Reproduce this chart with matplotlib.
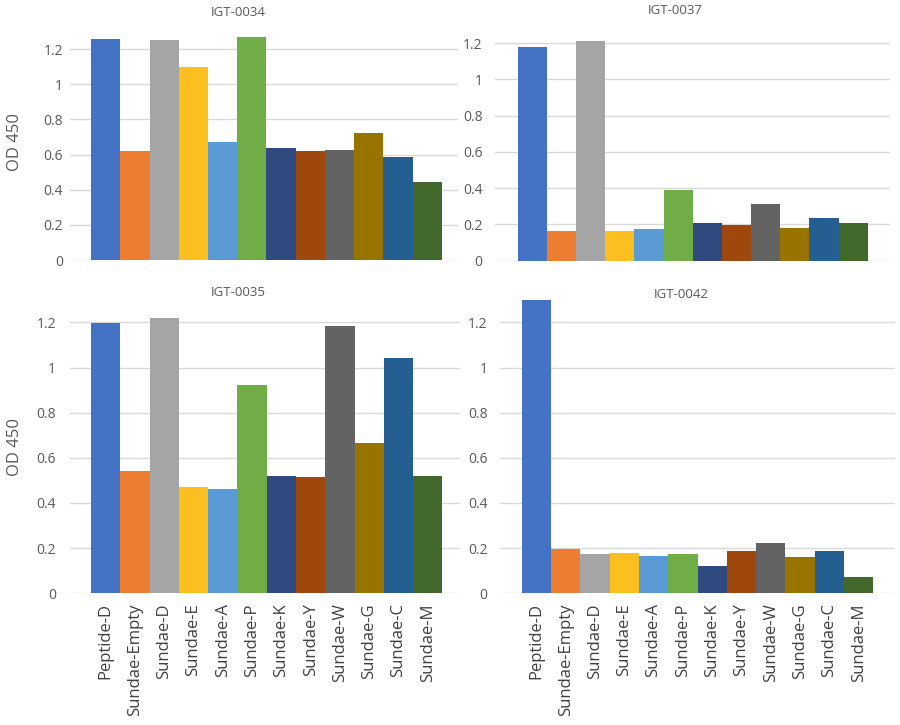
import matplotlib

matplotlib.use("Agg")

import matplotlib.pyplot as plt
import numpy as np

plt.rcParams["font.family"] = ["Open Sans", "DejaVu Sans"]

categories = [
    "Peptide-D", "Sundae-Empty", "Sundae-D", "Sundae-E", "Sundae-A", "Sundae-P",
    "Sundae-K", "Sundae-Y", "Sundae-W", "Sundae-G", "Sundae-C", "Sundae-M",
]

igt_0034 = [1.26, 0.62, 1.25, 1.10, 0.67, 1.27, 0.635, 0.62, 0.625, 0.72, 0.585, 0.445]
igt_0037 = [1.18, 0.165, 1.21, 0.165, 0.175, 0.392, 0.206, 0.197, 0.315, 0.182, 0.234, 0.21]
igt_0035 = [1.197, 0.542, 1.221, 0.469, 0.463, 0.922, 0.519, 0.516, 1.182, 0.666, 1.041, 0.519]
igt_0042 = [1.297, 0.195, 0.174, 0.177, 0.165, 0.174, 0.121, 0.189, 0.223, 0.162, 0.189, 0.071]

y_ticks = [0, 0.2, 0.4, 0.6, 0.8, 1, 1.2]
y_tick_labels = ["0", "0.2", "0.4", "0.6", "0.8", "1", "1.2"]

_BAR_COLORS = [
    "#4472C4", "#ED7D31", "#A5A5A5", "#FBBF1F", "#5B9BD5", "#70AD47",
    "#2E4A7F", "#9E480E", "#636363", "#997300", "#255E91", "#43682B",
]
_GRID_COLOR = "#D9D9D9"
_LABEL_COLOR = "#595959"
_TICK_COLOR = "#404040"

W, H = 900, 725

# (name, values, [left px, top px, right px, bottom px], xlim, title xy px, show x labels, y pad)
panels = [
    ("IGT-0034", igt_0034, (70, 31.5, 458, 260), (-1.22, 12.05), (238, 12), False, 5),
    ("IGT-0037", igt_0037, (495, 25, 890, 260.7), (-1.28, 12.26), (675, 10), False, 9),
    ("IGT-0035", igt_0035, (70, 299.8, 460, 593.3), (-1.22, 12.1), (238, 292), True, 10),
    ("IGT-0042", igt_0042, (500, 299.8, 895, 593.3), (-1.24, 12.24), (681, 295), True, 9),
]

fig = plt.figure(figsize=(W / 100, H / 100), dpi=100)
fig.patch.set_facecolor("white")

x = np.arange(len(categories))

for name, values, (l, t, r, b), xlim, (tx, ty), show_x, ypad in panels:
    ax = fig.add_axes([l / W, 1 - b / H, (r - l) / W, (b - t) / H])
    ax.bar(x, values, width=1.0, color=_BAR_COLORS, zorder=3, clip_on=False)
    ax.set_xlim(*xlim)
    ax.set_ylim(0, 1.3)
    ax.set_yticks(y_ticks)
    ax.set_yticklabels(y_tick_labels, fontsize=10, color=_LABEL_COLOR)
    ax.tick_params(axis="y", length=0, pad=ypad)
    ax.grid(axis="y", color=_GRID_COLOR, linewidth=1, zorder=0)
    for s in ax.spines.values():
        s.set_visible(False)
    ax.set_xticks(x)
    if show_x:
        ax.set_xticklabels(categories, rotation=90, fontsize=12, color=_TICK_COLOR)
        ax.tick_params(axis="x", length=0, pad=7)
    else:
        ax.set_xticklabels([])
        ax.tick_params(axis="x", length=0)
    fig.text(tx / W, 1 - ty / H, name, ha="center", va="center", fontsize=9.5, color=_LABEL_COLOR)

fig.text(15 / W, 1 - 142 / H, "OD 450", rotation=90, ha="center", va="center",
         fontsize=12, color=_LABEL_COLOR)
fig.text(15 / W, 1 - 447 / H, "OD 450", rotation=90, ha="center", va="center",
         fontsize=12, color=_LABEL_COLOR)

fig.savefig("out.png", dpi=100, facecolor="white")
plt.close(fig)
